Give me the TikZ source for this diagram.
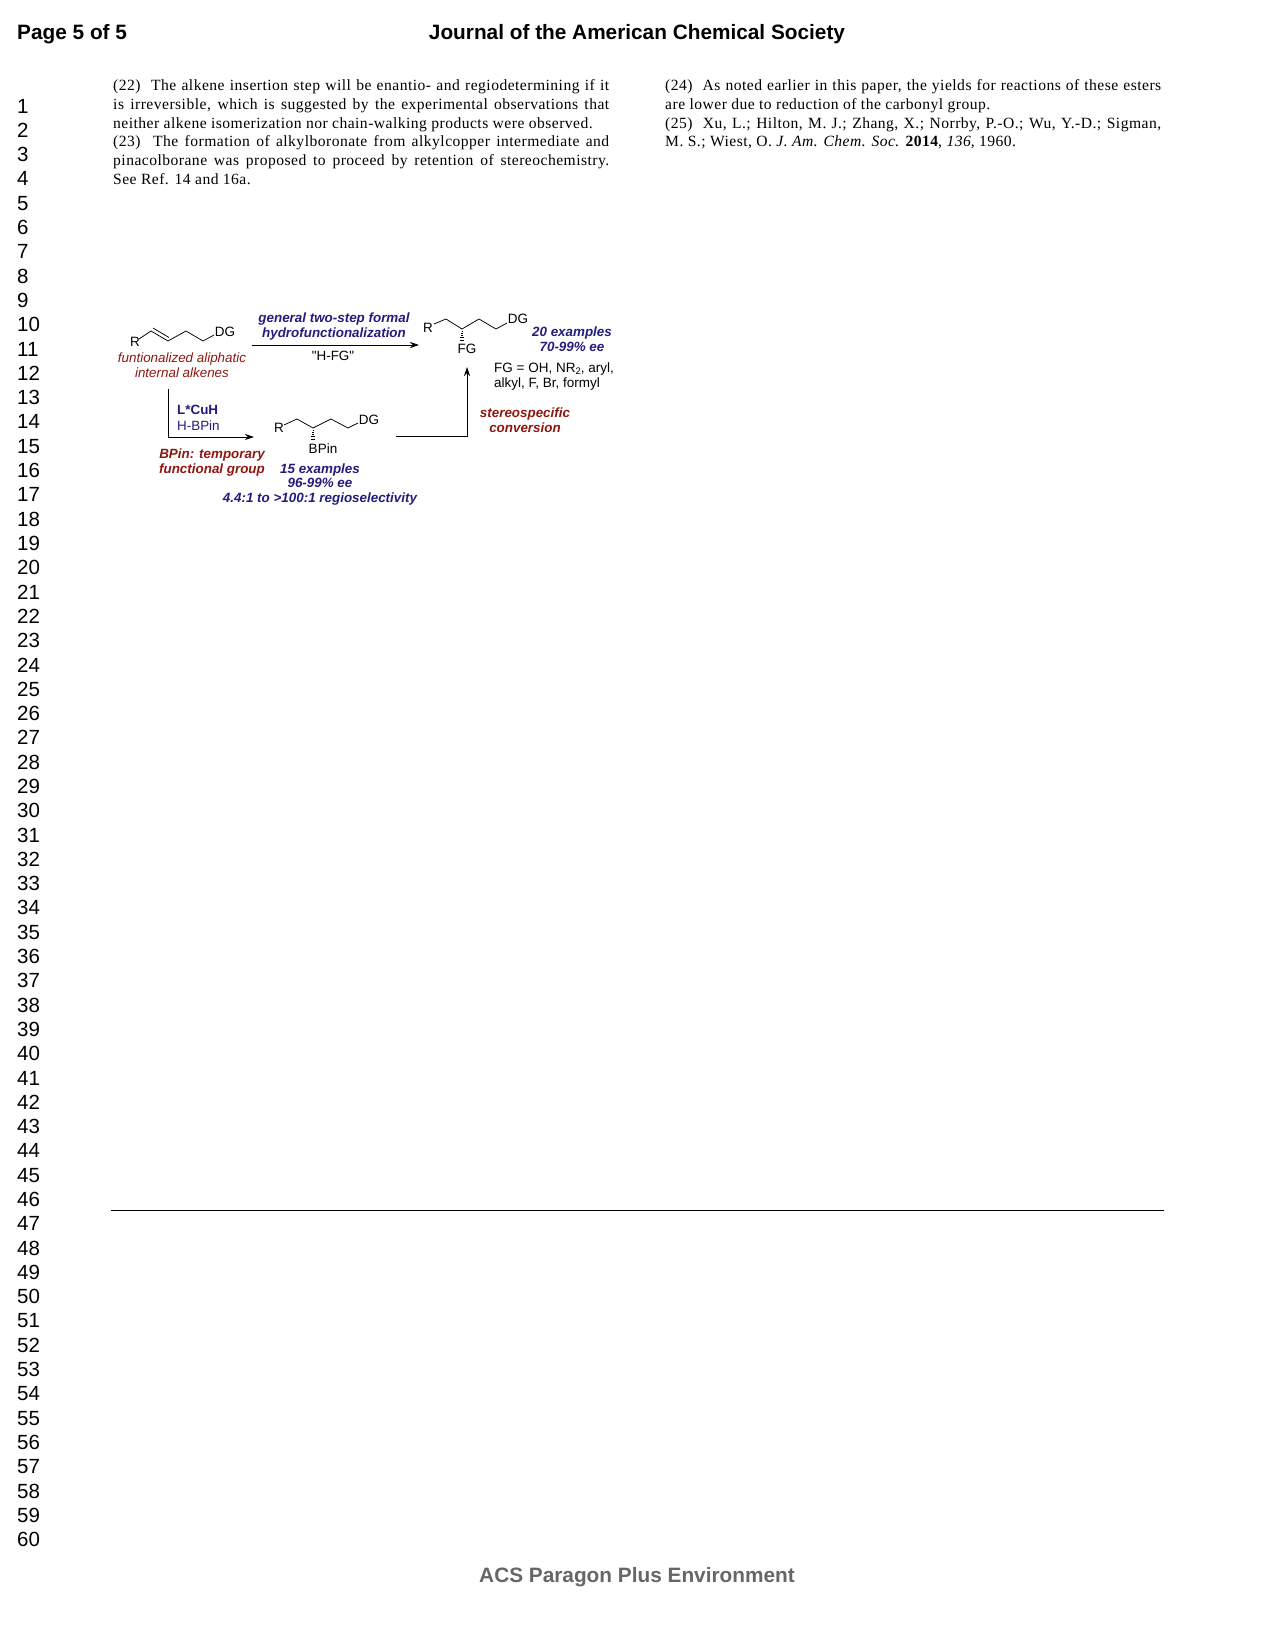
\documentclass[tikz,border=0pt]{standalone}
\usepackage{fontspec}
\setmainfont{Liberation Serif}
\setsansfont{Liberation Sans}
\newfontfamily\bodyfont[LetterSpace=3]{Liberation Serif}
\newfontfamily\plainsans{Liberation Sans}
\usetikzlibrary{arrows.meta}
\definecolor{dblue}{HTML}{241C7C}
\definecolor{dred}{HTML}{8E1710}
\definecolor{fgray}{HTML}{666666}
\newcommand{\jl}[2][496pt]{\makebox[#1][s]{#2}}
\newcommand{\lowtwo}{\raisebox{-2pt}{\fontsize{9.5}{10}\selectfont 2}}
\tikzset{
  x=1pt,y=-1pt,
  head/.style={inner sep=0,font=\sffamily\bfseries\fontsize{20.8}{24}\selectfont},
  num/.style={inner sep=0,anchor=west,font=\sffamily\fontsize{20.5}{24}\selectfont},
  body/.style={inner sep=0,anchor=north west,align=left,font=\bodyfont\fontsize{15.6}{18.75}\selectfont},
  atom/.style={inner sep=0,font=\sffamily\fontsize{13.5}{15}\selectfont},
  note/.style={inner sep=0,align=center,font=\sffamily\fontsize{13.4}{14.8}\selectfont},
  bluenote/.style={note,text=dblue,font=\sffamily\bfseries\itshape\fontsize{13.4}{14.8}\selectfont},
  rednote/.style={note,text=dred,font=\sffamily\bfseries\itshape\fontsize{13.4}{15}\selectfont},
  bond/.style={line width=0.75pt,line join=round},
  hash/.style={line width=0.5pt},
  rxn/.style={line width=0.8pt,-{Stealth[length=9pt,width=6pt]}},
}
\begin{document}
\begin{tikzpicture}
\useasboundingbox (0,0) rectangle (1275,1651);
% page furniture
\node[head,anchor=west] (page) at (17,34) {Page 5 of 5};
\node[head] (journal) at (637,34) {Journal of the American Chemical Society};
\node[head,text=fgray] (footer) at (637,1577) {ACS Paragon Plus Environment};
\foreach \n in {1,...,60}{
  \pgfmathsetmacro{\yy}{106+(\n-1)*24.3}
  \node[num] (n\n) at (17,\yy) {\n};
}
\coordinate (ruleL) at (111,1210);
\coordinate (ruleR) at (1164,1210);
\draw[line width=0.6pt] (ruleL) -- (ruleR);
% references
\node[body] (left) at (113,79.5) {%
\jl{(22)\ \ The alkene insertion step will be enantio- and regiodetermining if it}\\
\jl{is irreversible, which is suggested by the experimental observations that}\\
neither alkene isomerization nor chain-walking products were observed.\\
\jl{(23)\ \ The formation of alkylboronate from alkylcopper intermediate and}\\
\jl{pinacolborane was proposed to proceed by retention of stereochemistry.}\\
See Ref. 14 and 16a.};
\node[body] (right) at (665,79.5) {%
\jl{(24)\ \ As noted earlier in this paper, the yields for reactions of these esters}\\
are lower due to reduction of the carbonyl group.\\
\jl{(25)\ \ Xu, L.; Hilton, M. J.; Zhang, X.; Norrby, P.-O.; Wu, Y.-D.; Sigman,}\\
M. S.; Wiest, O. \textit{J. Am. Chem. Soc.} \textbf{2014}, \textit{136}, 1960.};
% alkene
\node[atom] (R1) at (135,341.5) {R};
\node[atom] (DG1) at (225,332) {DG};
\draw[bond] (139,339) -- (151,331) -- (168,341) -- (186,331) -- (203,341) -- (214,335);
\draw[bond] (153,328) -- (169,337.5);
\node[note,text=dred,font=\sffamily\itshape\fontsize{13.4}{14.8}\selectfont] (alk) at (182,365) {funtionalized aliphatic\\internal alkenes};
% product
\node[atom] (R3) at (428,328) {R};
\node[atom] (DG3) at (518,319) {DG};
\node[atom] (FG) at (467,349) {FG};
\draw[bond] (434,324) -- (446,319) -- (462,329) -- (479,319) -- (496,329) -- (507,323);
\foreach \i in {0,...,4}{
  \draw[hash] ({462-0.4-0.45*\i},{331+2.2*\i}) -- ({462+0.4+0.45*\i},{331+2.2*\i});
}
\node[bluenote] (ex20) at (572,339) {20 examples\\70-99\% ee};
\node[note,align=left,anchor=north west,font=\sffamily\fontsize{13.5}{15}\selectfont] (fgs) at (494,362.5) {FG = OH, NR\lowtwo, aryl,\\alkyl, F, Br, formyl};
% boronate
\node[atom] (R2) at (279,428) {R};
\node[atom] (DG2) at (369,420) {DG};
\node[atom] (BPin) at (323,449) {BPin};
\draw[bond] (284,425) -- (297,419) -- (313,428) -- (331,419) -- (348,428) -- (358,423);
\foreach \i in {0,...,4}{
  \draw[hash] ({313-0.4-0.45*\i},{430+2.2*\i}) -- ({313+0.4+0.45*\i},{430+2.2*\i});
}
\node[bluenote] (ex15) at (320,484.5) {15 examples\\96-99\% ee\\4.4:1 to >100:1 regioselectivity};
% arrows
\coordinate (a1s) at (252,345);
\coordinate (a1e) at (419,345);
\draw[rxn] (a1s) -- (a1e);
\node[bluenote] (gen) at (334,326.5) {general two-step formal\\hydrofunctionalization};
\node[note,font=\plainsans\fontsize{13.4}{14.8}\selectfont] (hfg) at (333,356) {"H-FG"};
\coordinate (a2s) at (168,389);
\coordinate (a2e) at (254,437);
\draw[rxn] (a2s) |- (a2e);
\node[note,anchor=west,font=\sffamily\bfseries\fontsize{13.4}{15}\selectfont,text=dblue] (cuh) at (177,410) {L*CuH};
\node[note,anchor=west,text=dblue] (hb) at (177,426) {H-BPin};
\node[rednote] (temp) at (212,462.5) {BPin: temporary\\functional group};
\coordinate (a3s) at (396,436);
\coordinate (a3e) at (467,367);
\draw[rxn] (a3s) -| (a3e);
\node[rednote] (ster) at (525,420.5) {stereospecific\\conversion};
\end{tikzpicture}
\end{document}
